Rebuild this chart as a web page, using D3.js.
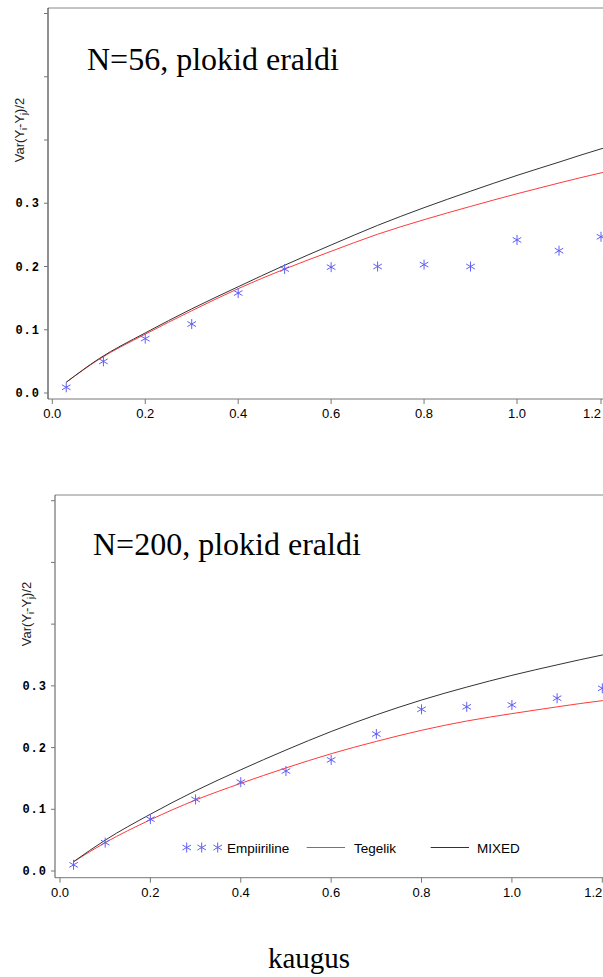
<!DOCTYPE html>
<meta charset="utf-8">
<title>Variogramm</title>
<style>
body { margin: 0; background: #fff; }
svg { display: block; }
.ytick text { font-family: "Liberation Mono", monospace; font-weight: bold; font-size: 12px; letter-spacing: 1px; }
.xtick text { font-family: "Liberation Sans", Arial, sans-serif; font-size: 13px; }
.ttl { font-family: "Liberation Serif", "Times New Roman", serif; }
.leg { font-family: "Liberation Sans", Arial, sans-serif; font-size: 13.5px; }
</style>
<body>
<svg width="603" height="977" id="svg"></svg>
<script src="https://d3js.org/d3.v7.min.js"></script>
<script>

// distance classes and values
var distTop = [0.03, 0.11, 0.2, 0.3, 0.4, 0.5, 0.6, 0.7, 0.8, 0.9, 1.0, 1.1, 1.2];
var empTop  = [0.009, 0.05, 0.086, 0.109, 0.158, 0.196, 0.199, 0.2, 0.203, 0.2, 0.242, 0.225, 0.247];
var distBot = [0.03, 0.10, 0.2, 0.3, 0.4, 0.5, 0.6, 0.7, 0.8, 0.9, 1.0, 1.1, 1.2];
var empBot  = [0.01, 0.046, 0.084, 0.116, 0.144, 0.162, 0.18, 0.222, 0.262, 0.266, 0.269, 0.28, 0.296];

var curveX = [0.03, 0.1, 0.2, 0.3, 0.4, 0.5, 0.6, 0.7, 0.8, 0.9, 1.0, 1.1, 1.2, 1.25];
var mixedTop = [0.017, 0.054, 0.095, 0.133, 0.168, 0.202, 0.234, 0.265, 0.293, 0.319, 0.344, 0.365, 0.386, 0.395];
var tegelTop = [0.017, 0.053, 0.093, 0.13, 0.165, 0.196, 0.224, 0.251, 0.274, 0.295, 0.315, 0.332, 0.348, 0.355];
var mixedBot = [0.015, 0.05, 0.092, 0.13, 0.164, 0.196, 0.226, 0.253, 0.277, 0.298, 0.317, 0.334, 0.35, 0.357];
var tegelBot = [0.015, 0.046, 0.083, 0.115, 0.142, 0.167, 0.19, 0.21, 0.228, 0.243, 0.255, 0.266, 0.276, 0.28];

var xTicks = [0, 0.2, 0.4, 0.6, 0.8, 1.0, 1.2];
var yTicks = [0, 0.1, 0.2, 0.3, 0.4, 0.5, 0.6];
var yLabeled = [0, 0.1, 0.2, 0.3];
var legendNames = ["Empiiriline", "Tegelik", "MIXED"];

var svg = d3.select("svg");
svg.append("rect").attr("width", 603).attr("height", 977).attr("fill", "#fff");

var starPath = "M0,-5V5M-4.3,-2.5L4.3,2.5M-4.3,2.5L4.3,-2.5";
var starColor = "#5f5ff5";
var redColor = "#ff3a3a";
var blackColor = "#333";

function drawPanel(p) {
  var g = svg.append("g");
  var x = d3.scaleLinear().domain(p.xDom).range(p.xRange);
  var y = d3.scaleLinear().domain([0, 0.6]).range(p.yRange);

  // frame
  g.append("line").attr("x1", p.left).attr("x2", 640).attr("y1", p.top).attr("y2", p.top)
    .attr("stroke", "#888");
  g.append("line").attr("x1", p.left).attr("x2", 640).attr("y1", p.bottom).attr("y2", p.bottom)
    .attr("stroke", "#777");
  g.append("line").attr("x1", p.left).attr("x2", p.left).attr("y1", p.top).attr("y2", p.bottom)
    .attr("stroke", p.leftColor);

  // y ticks
  var yt = g.selectAll(".ytick").data(yTicks).enter().append("g").attr("class", "ytick");
  yt.append("line").attr("x1", p.left - 4).attr("x2", p.left)
    .attr("y1", function(d) { return y(d); }).attr("y2", function(d) { return y(d); })
    .attr("stroke", "#777");
  yt.filter(function(d) { return yLabeled.indexOf(d) >= 0; })
    .append("text")
    .attr("x", p.left - 8).attr("y", function(d) { return y(d); })
    .attr("dy", "0.35em").attr("text-anchor", "end")
    .text(function(d) { return d3.format(".1f")(d); });

  // x ticks
  var xt = g.selectAll(".xtick").data(xTicks).enter().append("g").attr("class", "xtick");
  xt.append("line").attr("x1", function(d) { return x(d); }).attr("x2", function(d) { return x(d); })
    .attr("y1", p.bottom).attr("y2", p.bottom + 5).attr("stroke", "#777");
  xt.append("text")
    .attr("x", function(d) { return Math.min(x(d), 603); })
    .attr("y", p.bottom + 19)
    .attr("text-anchor", function(d) { return x(d) + 9 > 603 ? "end" : "middle"; })
    .text(function(d) { return d3.format(".1f")(d); });

  // y title
  var yl = g.append("text")
    .attr("transform", "translate(" + p.yTitleX + "," + p.yTitleY + ") rotate(-90)")
    .attr("text-anchor", "middle")
    .attr("font-family", "Liberation Sans, Arial, sans-serif")
    .attr("font-size", "13px")
    .attr("fill", "#222");
  yl.append("tspan").text("Var(Y");
  yl.append("tspan").attr("font-size", "9px").attr("dy", 3).text("i");
  yl.append("tspan").attr("dy", -3).text("-Y");
  yl.append("tspan").attr("font-size", "9px").attr("dy", 3).text("j");
  yl.append("tspan").attr("dy", -3).text(")/2");

  // title
  g.append("text").attr("class", "ttl").attr("x", p.titleX).attr("y", p.titleY)
    .attr("font-size", "32px").text(p.title);

  var line = d3.line()
    .x(function(d) { return x(d[0]); })
    .y(function(d) { return y(d[1]); })
    .curve(d3.curveMonotoneX);

  g.append("path").datum(d3.zip(curveX, p.tegel)).attr("d", line)
    .attr("fill", "none").attr("stroke", redColor).attr("stroke-width", 1);
  g.append("path").datum(d3.zip(curveX, p.mixed)).attr("d", line)
    .attr("fill", "none").attr("stroke", blackColor).attr("stroke-width", 1);

  g.selectAll(".star").data(d3.zip(p.dist, p.emp)).enter().append("path")
    .attr("class", "star")
    .attr("transform", function(d) { return "translate(" + x(d[0]) + "," + y(d[1]) + ")"; })
    .attr("d", starPath).attr("fill", "none").attr("stroke", starColor).attr("stroke-width", 1);

  return g;
}

drawPanel({
  left: 48, top: 8, bottom: 399,
  xDom: [0, 1.0, 1.2], xRange: [52.3, 517, 601],
  yRange: [393, 13.5],
  leftColor: "#222",
  yTitleX: 24, yTitleY: 130,
  title: "N=56, plokid eraldi", titleX: 87, titleY: 70,
  dist: distTop, emp: empTop, mixed: mixedTop, tegel: tegelTop
});

var gb = drawPanel({
  left: 55, top: 495, bottom: 877.7,
  xDom: [0, 1.2], xRange: [60, 602.3],
  yRange: [871, 500.7],
  leftColor: "#555",
  yTitleX: 31, yTitleY: 614,
  title: "N=200, plokid eraldi", titleX: 93, titleY: 555,
  dist: distBot, emp: empBot, mixed: mixedBot, tegel: tegelBot
});

// legend
var ly = 847.5;
[186.7, 201.7, 217.7].forEach(function(sx) {
  gb.append("path").attr("transform", "translate(" + sx + "," + ly + ")")
    .attr("d", starPath).attr("fill", "none").attr("stroke", starColor);
});
gb.append("text").attr("class", "leg").attr("x", 227).attr("y", ly + 5).text(legendNames[0]);
gb.append("line").attr("x1", 306.7).attr("x2", 345).attr("y1", ly).attr("y2", ly).attr("stroke", redColor);
gb.append("text").attr("class", "leg").attr("x", 354).attr("y", ly + 5).text(legendNames[1]);
gb.append("line").attr("x1", 430.7).attr("x2", 469).attr("y1", ly).attr("y2", ly).attr("stroke", blackColor);
gb.append("text").attr("class", "leg").attr("x", 477).attr("y", ly + 5).text(legendNames[2]);

// common x title
svg.append("text").attr("class", "ttl").attr("x", 309).attr("y", 968)
  .attr("text-anchor", "middle").attr("font-size", "29px").text("kaugus");

</script>
</body>
